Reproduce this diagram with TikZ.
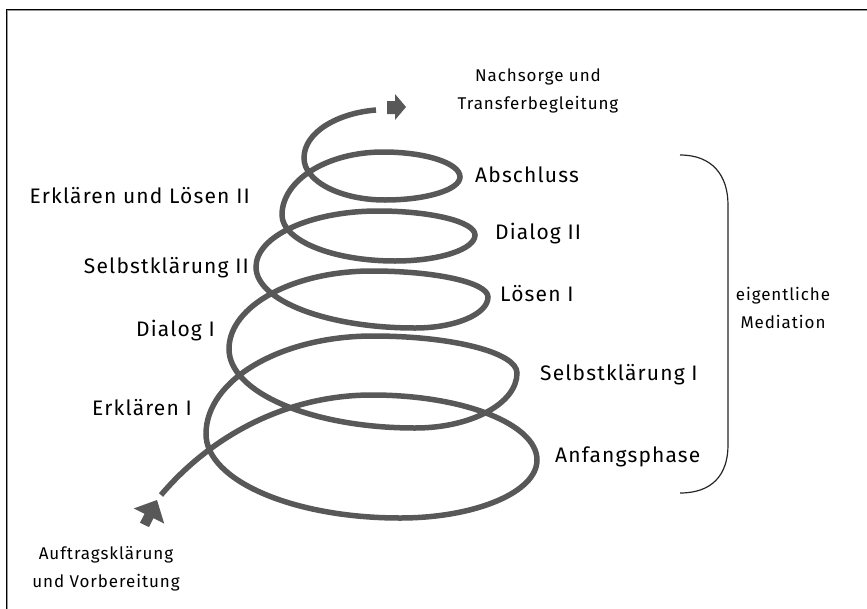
\documentclass[tikz,border=0pt]{standalone}
\usepackage{fontspec}
\setmainfont{Fira Sans}[LetterSpace=5.5]
\definecolor{coilgray}{HTML}{585858}
\begin{document}
\begin{tikzpicture}[x=1pt,y=-1pt,
  coil/.style={draw=coilgray, line width=5.5pt},
  tipshape/.style={fill=coilgray, draw=none},
  lbl/.style={font=\fontsize{21}{29}\selectfont, inner sep=0pt, text=black},
  note/.style={font=\fontsize{17}{28}\selectfont, inner sep=0pt, text=black, align=center},
  brace/.style={draw=black!85, line width=1.2pt}]
\path[use as bounding box] (0,0) rectangle (867,608);
\clip (0,0) rectangle (867,608);

% frame (only top and left edges fall inside the page)
\draw[black, line width=1.3pt] (6.5,640) -- (6.5,9.5) -- (900,9.5);
\draw[black!40, line width=1pt] (7.9,640) -- (7.9,10.9) -- (900,10.9);

% key points of the coil: T = back, R = right, B = front, L = left
\coordinate (S)  at (161,495);
\coordinate (T1) at (372,395); \coordinate (R1) at (537,460);
\coordinate (B1) at (400,518); \coordinate (L1) at (206,434);
\coordinate (T2) at (373,336); \coordinate (R2) at (517,373);
\coordinate (B2) at (415,428); \coordinate (L2) at (229,349);
\coordinate (T3) at (372,271); \coordinate (R3) at (488,297);
\coordinate (B3) at (415,328); \coordinate (L3) at (256,267);
\coordinate (T4) at (378,211); \coordinate (R4) at (475,235);
\coordinate (B4) at (395,261); \coordinate (L4) at (282,215);
\coordinate (T5) at (383,152); \coordinate (R5) at (460,177);
\coordinate (B5) at (385,200); \coordinate (L5) at (304,158);
\coordinate (E)  at (376,110);

% the coil, built from quarter-ellipse arcs
\draw[coil] (S) .. controls (210,437) and (285,395) .. (T1)
  .. controls (463.1,395) and (537,424.1) .. (R1)
  .. controls (537,492.0) and (475.6,518) .. (B1)
  .. controls (292.9,518) and (206,480.4) .. (L1)
  .. controls (206,379.9) and (280.8,336) .. (T2)
  .. controls (452.5,336) and (517,352.6) .. (R2)
  .. controls (517,403.4) and (471.3,428) .. (B2)
  .. controls (312.3,428) and (229,392.6) .. (L2)
  .. controls (229,305.9) and (293.1,271) .. (T3)
  .. controls (436.0,271) and (488,282.6) .. (R3)
  .. controls (488,314.1) and (455.3,328) .. (B3)
  .. controls (327.2,328) and (256,300.7) .. (L3)
  .. controls (256,236.1) and (310.7,211) .. (T4)
  .. controls (431.5,211) and (475,221.8) .. (R4)
  .. controls (475,249.4) and (439.2,261) .. (B4)
  .. controls (332.6,261) and (282,240.4) .. (L4)
  .. controls (282,180.2) and (327.2,152) .. (T5)
  .. controls (425.5,152) and (460,163.2) .. (R5)
  .. controls (460,189.7) and (426.4,200) .. (B5)
  .. controls (340.3,200) and (304,181.2) .. (L5)
  .. controls (304,132) and (338,113) .. (E);

% block arrow heads at both ends
\fill[tipshape] (157,500) -- (164.2,523.6) -- (153.5,518.2) -- (149,527.1)
  -- (140,522.7) -- (144.5,513.8) -- (133.8,508.4) -- cycle;
\fill[tipshape] (387,101) -- (395,101) -- (395,94) -- (406,107)
  -- (395,120) -- (395,114) -- (387,114) -- cycle;

% brace
\draw[brace] (680,155) .. controls (712,155) and (728,175) .. (728,205)
  -- (728,445) .. controls (728,475) and (712,493) .. (680,493);

% phase labels
\node[lbl, anchor=west] (absch) at (475,175) {Abschluss};
\node[lbl, anchor=west] (dia2) at (495,234) {Dialog II};
\node[lbl, anchor=west] (loes1) at (500,294) {Lösen I};
\node[lbl, anchor=west] (selb1) at (540,375) {Selbstklärung I};
\node[lbl, anchor=west] (anf) at (555,457) {Anfangsphase};
\node[lbl, anchor=east] (erkl2) at (250,196) {Erklären und Lösen II};
\node[lbl, anchor=east] (selb2) at (249,268) {Selbstklärung II};
\node[lbl, anchor=east] (dia1) at (215,331) {Dialog I};
\node[lbl, anchor=east] (erkl1) at (192,408) {Erklären I};

% outer annotations
\node[note] (nach) at (538,91) {Nachsorge und\\Transferbegleitung};
\node[note] (med) at (783,308) {eigentliche\\Mediation};
\node[note] (auftr) at (106,569) {Auftragsklärung\\und Vorbereitung};
\end{tikzpicture}
\end{document}
